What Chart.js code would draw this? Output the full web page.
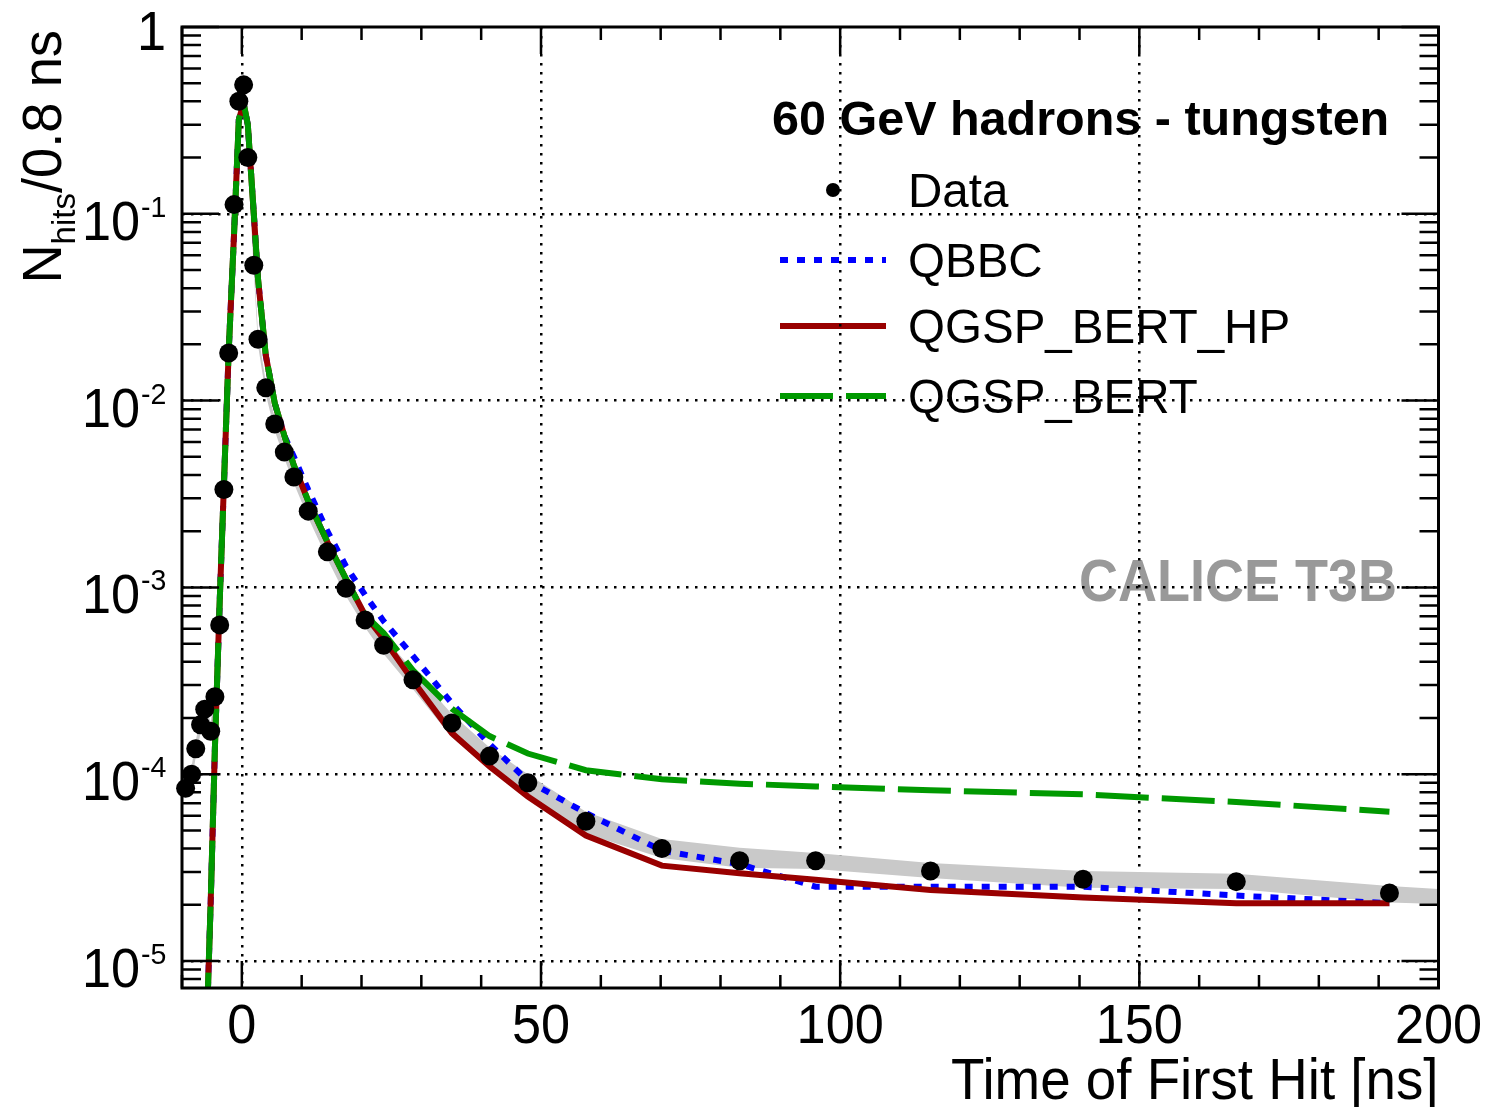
<!DOCTYPE html>
<html lang="en">
<head>
<meta charset="UTF-8">
<title>T3B - Time of First Hit, 60 GeV hadrons in tungsten</title>
<script src="https://cdn.jsdelivr.net/npm/chart.js"></script>
<style>
  body { margin: 0; padding: 0; background: #fff; }
  canvas { display: block; }
</style>
</head>
<body>
<canvas id="timeChart" width="1490" height="1107"></canvas>
<script>
  // bin centres (ns) and hit fractions
  const timeNs = [-9.4, -8.4, -7.7, -6.9, -6.2, -5.2, -4.5, -3.7, -3.0, -2.2, -1.3, -0.5, 0.3, 1.0, 2.0, 2.7,
    4.0, 5.5, 7.1, 8.7, 11.1, 14.3, 17.4, 20.6, 23.7, 28.6, 35.1, 41.4, 47.8, 57.5, 70.2, 83.2, 95.9,
    115.1, 140.6, 166.2, 191.8];

  const dataHits = [8.4e-5, 1.0e-4, 1.37e-4, 1.84e-4, 2.23e-4, 1.7e-4, 2.6e-4, 6.3e-4, 3.34e-3, 1.8e-2,
    0.112, 0.40, 0.49, 0.20, 5.3e-2, 2.13e-2, 1.17e-2, 7.5e-3, 5.3e-3, 3.9e-3, 2.56e-3, 1.55e-3, 9.9e-4,
    6.7e-4, 4.9e-4, 3.2e-4, 1.88e-4, 1.25e-4, 9.0e-5, 5.6e-5, 4.0e-5, 3.44e-5, 3.44e-5, 3.03e-5, 2.74e-5,
    2.66e-5, 2.31e-5];

  // grey systematic band; one extra point at the 200 ns edge
  const bandEndNs = 200;
  const bandLow = [7.6e-5, 9.0e-5, 1.24e-4, 1.66e-4, 2.02e-4, 1.54e-4, 2.35e-4, 5.8e-4, 3.1e-3, 1.67e-2,
    0.104, 0.37, 0.455, 0.186, 4.9e-2, 1.98e-2, 1.08e-2, 6.9e-3, 4.9e-3, 3.6e-3, 2.36e-3, 1.42e-3, 9.0e-4,
    6.1e-4, 4.4e-4, 2.85e-4, 1.57e-4, 1.06e-4, 7.9e-5, 4.8e-5, 3.56e-5, 3.16e-5, 3.11e-5, 2.78e-5, 2.47e-5,
    2.43e-5, 2.06e-5, 2.02e-5];
  const bandHigh = [9.3e-5, 1.1e-4, 1.51e-4, 2.03e-4, 2.46e-4, 1.88e-4, 2.87e-4, 6.8e-4, 3.6e-3, 1.94e-2,
    0.121, 0.43, 0.53, 0.216, 5.7e-2, 2.3e-2, 1.26e-2, 8.1e-3, 5.7e-3, 4.2e-3, 2.78e-3, 1.69e-3, 1.09e-3,
    7.4e-4, 5.45e-4, 3.6e-4, 2.1e-4, 1.39e-4, 1.0e-4, 6.3e-5, 4.5e-5, 4.04e-5, 3.79e-5, 3.35e-5, 3.03e-5,
    2.93e-5, 2.52e-5, 2.43e-5];

  // simulations (same binning)
  const qbbc = [null, null, null, null, 2e-6, 2.1e-5, 1.38e-4, 8.4e-4, 3.5e-3, 1.83e-2, 7.8e-2, 0.32, 0.39,
    0.30, 0.10, 4.5e-2, 1.75e-2, 9.7e-3, 6.5e-3, 5.0e-3, 3.33e-3, 2.0e-3, 1.3e-3, 9.1e-4, 6.6e-4, 4.3e-4,
    2.4e-4, 1.45e-4, 9.2e-5, 6.2e-5, 3.9e-5, 3.3e-5, 2.5e-5, 2.5e-5, 2.5e-5, 2.24e-5, 2.04e-5];
  const qgspBertHp = [null, null, null, null, 2e-6, 2.1e-5, 1.38e-4, 8.4e-4, 3.5e-3, 1.83e-2, 7.8e-2, 0.32,
    0.39, 0.30, 0.10, 4.5e-2, 1.75e-2, 9.7e-3, 6.5e-3, 4.5e-3, 2.9e-3, 1.75e-3, 1.11e-3, 7.1e-4, 5.3e-4,
    3.16e-4, 1.66e-4, 1.1e-4, 7.6e-5, 4.7e-5, 3.24e-5, 2.95e-5, 2.72e-5, 2.4e-5, 2.19e-5, 2.04e-5, 2.04e-5];
  const qgspBert = [null, null, null, null, 2e-6, 2.1e-5, 1.38e-4, 8.4e-4, 3.5e-3, 1.83e-2, 7.8e-2, 0.32,
    0.39, 0.30, 0.10, 4.5e-2, 1.75e-2, 9.7e-3, 6.5e-3, 4.5e-3, 2.9e-3, 1.75e-3, 1.11e-3, 7.1e-4, 5.7e-4,
    3.6e-4, 2.24e-4, 1.6e-4, 1.29e-4, 1.05e-4, 9.4e-5, 8.9e-5, 8.6e-5, 8.2e-5, 7.8e-5, 7.1e-5, 6.3e-5];

  // axes
  const xMin = -10, xMax = 200, xMinorStep = 10;
  const xMajorTicks = [0, 50, 100, 150, 200];
  const yMin = 7.17e-6, yMax = 1;
  const yDecades = [1e-5, 1e-4, 1e-3, 1e-2, 1e-1, 1];
  const yExponents = ['-5', '-4', '-3', '-2', '-1', ''];

  const legendTitle = '60 GeV hadrons - tungsten';
  const watermark = 'CALICE T3B';
  const xTitle = 'Time of First Hit [ns]';

  const FONT = '"Liberation Sans", Arial, Helvetica, sans-serif';

  const toPoints = (xs, ys) => xs.map((x, i) => ({ x: x, y: ys[i] })).filter(p => p.y !== null);
  const bandTime = timeNs.concat([bandEndNs]);

  function drawText(ctx, text, x, y, size, opts = {}) {
    const align = opts.align || 'left';
    const sx = opts.sx || 0.95;
    ctx.save();
    ctx.font = (opts.bold ? 'bold ' : '') + size + 'px ' + FONT;
    ctx.fillStyle = opts.color || '#000';
    ctx.textBaseline = 'alphabetic';
    ctx.textAlign = 'left';
    const w = ctx.measureText(text).width * sx;
    let left = x;
    if (align === 'center') left = x - w / 2;
    if (align === 'right') left = x - w;
    ctx.translate(left, y);
    ctx.scale(sx, 1);
    ctx.fillText(text, 0, 0);
    ctx.restore();
    return w;
  }

  // legend box + watermark, under the grid like in the original
  const legendPlugin = {
    id: 'rootLegend',
    beforeDraw(chart) {
      const ctx = chart.ctx;
      drawText(ctx, watermark, 1397, 601, 60, { bold: true, color: '#999999', align: 'right', sx: 0.9 });
      drawText(ctx, legendTitle, 772, 135, 49, { bold: true, sx: 0.99 });

      const rows = [190, 260, 326, 396];
      const order = [0, 3, 2, 1]; // Data, QBBC, QGSP_BERT_HP, QGSP_BERT
      order.forEach((di, r) => {
        const ds = chart.data.datasets[di];
        const cy = rows[r];
        ctx.save();
        if (ds.showLine === false) {
          ctx.fillStyle = '#000';
          ctx.beginPath();
          ctx.arc(833, cy, 7, 0, Math.PI * 2);
          ctx.fill();
        } else {
          ctx.strokeStyle = ds.borderColor;
          ctx.lineWidth = ds.borderWidth;
          ctx.setLineDash(ds.borderDash || []);
          ctx.beginPath();
          ctx.moveTo(780, cy);
          ctx.lineTo(886, cy);
          ctx.stroke();
        }
        ctx.restore();
        drawText(ctx, ds.label, 908, cy + 17, 49, { sx: 0.97 });
      });
    }
  };

  // ROOT-style frame: ticks on all four sides, labels, titles
  const framePlugin = {
    id: 'rootFrame',
    afterDraw(chart) {
      const { ctx, chartArea: a, scales: { x, y } } = chart;
      ctx.save();
      ctx.strokeStyle = '#000';
      ctx.lineWidth = 2.5;
      ctx.beginPath();
      for (let v = xMin; v <= xMax; v += xMinorStep) {
        const px = x.getPixelForValue(v);
        const len = xMajorTicks.includes(v) ? 27 : 13;
        ctx.moveTo(px, a.bottom); ctx.lineTo(px, a.bottom - len);
        ctx.moveTo(px, a.top); ctx.lineTo(px, a.top + len);
      }
      for (let e = -6; e <= 0; e++) {
        for (let m = 1; m <= 9; m++) {
          const v = m * Math.pow(10, e);
          if (v < yMin || v > yMax) continue;
          const py = y.getPixelForValue(v);
          const len = m === 1 ? 37 : 19;
          ctx.moveTo(a.left, py); ctx.lineTo(a.left + len, py);
          ctx.moveTo(a.right, py); ctx.lineTo(a.right - len, py);
        }
      }
      ctx.stroke();
      ctx.lineWidth = 3;
      ctx.strokeRect(a.left, a.top, a.right - a.left, a.bottom - a.top);
      ctx.restore();

      xMajorTicks.forEach(v => {
        drawText(ctx, String(v), x.getPixelForValue(v), 1043, 55, { align: 'center' });
      });
      yDecades.forEach((v, i) => {
        const py = y.getPixelForValue(v);
        if (yExponents[i] === '') {
          drawText(ctx, '1', 166, py + 23, 55, { align: 'right' });
        } else {
          drawText(ctx, '10', 140, py + 26, 55, { align: 'right' });
          drawText(ctx, yExponents[i], 141, py + 3, 30, { sx: 0.95 });
        }
      });

      drawText(ctx, xTitle, a.right, 1099, 57, { align: 'right', sx: 0.96 });

      // y title: N_hits/0.8 ns, rotated, ending at the top of the frame
      ctx.save();
      ctx.translate(61, 30);
      ctx.rotate(-Math.PI / 2);
      ctx.font = '56px ' + FONT;
      const wN = ctx.measureText('N').width * 0.97;
      const wRest = ctx.measureText('/0.8 ns').width * 0.97;
      ctx.font = '34px ' + FONT;
      const wSub = ctx.measureText('hits').width * 0.97;
      let cx = -(wN + wSub + wRest);
      drawText(ctx, 'N', cx, 0, 56, { sx: 0.97 }); cx += wN;
      drawText(ctx, 'hits', cx, 14, 34, { sx: 0.97 }); cx += wSub;
      drawText(ctx, '/0.8 ns', cx, 0, 56, { sx: 0.97 });
      ctx.restore();
    }
  };

  new Chart(document.getElementById('timeChart').getContext('2d'), {
    type: 'line',
    data: {
      datasets: [
        {
          label: 'Data',
          data: toPoints(timeNs, dataHits),
          showLine: false,
          pointRadius: 9.5,
          pointBackgroundColor: '#000',
          pointBorderWidth: 0,
          clip: false,
          order: 1
        },
        {
          label: 'QGSP_BERT',
          data: toPoints(timeNs, qgspBert),
          borderColor: '#009900',
          borderWidth: 6,
          borderDash: [53, 13],
          pointRadius: 0,
          clip: 0,
          order: 2
        },
        {
          label: 'QGSP_BERT_HP',
          data: toPoints(timeNs, qgspBertHp),
          borderColor: '#990000',
          borderWidth: 6,
          pointRadius: 0,
          clip: 0,
          order: 3
        },
        {
          label: 'QBBC',
          data: toPoints(timeNs, qbbc),
          borderColor: '#0000ff',
          borderWidth: 6,
          borderDash: [8, 9],
          pointRadius: 0,
          clip: 0,
          order: 4
        },
        {
          label: 'band high',
          data: toPoints(bandTime, bandHigh),
          borderWidth: 0,
          borderColor: 'rgba(0,0,0,0)',
          backgroundColor: '#c9c9c9',
          pointRadius: 0,
          fill: '+1',
          clip: 0,
          order: 5
        },
        {
          label: 'band low',
          data: toPoints(bandTime, bandLow),
          borderWidth: 0,
          borderColor: 'rgba(0,0,0,0)',
          pointRadius: 0,
          fill: false,
          clip: 0,
          order: 6
        }
      ]
    },
    options: {
      responsive: false,
      animation: false,
      devicePixelRatio: 1,
      layout: { padding: { left: 182, top: 27, right: 51.5, bottom: 119 } },
      elements: { line: { tension: 0 } },
      scales: {
        x: {
          type: 'linear',
          min: xMin,
          max: xMax,
          afterBuildTicks: s => { s.ticks = xMajorTicks.slice(0, -1).map(v => ({ value: v })); },
          afterFit: s => { s.height = 0; },
          ticks: { display: false },
          grid: { color: '#000', lineWidth: 2.5, drawTicks: false },
          border: { display: false, dash: [2.5, 6.5] }
        },
        y: {
          type: 'logarithmic',
          min: yMin,
          max: yMax,
          afterBuildTicks: s => { s.ticks = yDecades.slice(0, -1).map(v => ({ value: v })); },
          afterFit: s => { s.width = 0; },
          ticks: { display: false },
          grid: { color: '#000', lineWidth: 2.5, drawTicks: false },
          border: { display: false, dash: [2.5, 6.5] }
        }
      },
      plugins: {
        legend: { display: false },
        tooltip: { enabled: false }
      }
    },
    plugins: [legendPlugin, framePlugin]
  });
</script>
</body>
</html>
